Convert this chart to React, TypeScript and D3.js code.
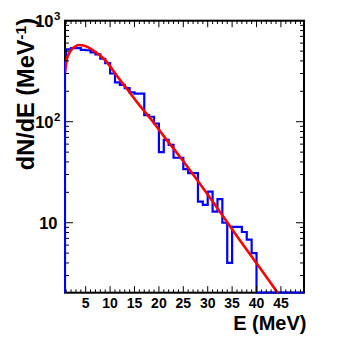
import React from "react";
import * as d3 from "d3";

// Histogram: 1 MeV bins, lower edges 0..39
const binLow: number[] = [
  0, 1, 2, 3, 4, 5, 6, 7, 8, 9, 10, 11, 12, 13, 14, 15, 16, 17, 18, 19,
  20, 21, 22, 23, 24, 25, 26, 27, 28, 29, 30, 31, 32, 33, 34, 35, 36, 37, 38, 39,
];
const counts: number[] = [
  390, 520, 535, 535, 515, 510, 485, 465, 420, 380, 300, 245, 232, 215, 195, 190, 190, 116, 112, 96,
  50, 66, 59, 44, 44, 34, 31, 31, 16.2, 15.0, 20.3, 12.9, 17.1, 10, 4.0, 9.1, 9.1, 8.1, 6.8, 5.0,
];
// Fitted curve samples
const fitE: number[] = [0.76, 1.1, 1.8, 2.8, 3.5, 4.9, 6.9, 9, 11.7, 13.4, 16, 18.5, 21, 24.3, 30.5, 37, 44.1, 47];
const fitV: number[] = [301, 408, 494, 553, 575, 563, 494, 406, 272, 213, 146, 104, 72, 45, 17.6, 6.3, 2.1, 1.3];

const xTickLabels: number[] = [5, 10, 15, 20, 25, 30, 35, 40, 45];
const yMajor: number[] = [10, 100, 1000];

const W = 357, H = 345;
const L = 65, R = 304, T = 20.7, B = 292.7;

export default function App() {
  const x = d3.scaleLinear().domain([0.76, 49.73]).range([L, R]);
  const y = d3.scaleLog().domain([2.03, 1000]).range([B, T]);

  const yv = (v: number) => (v <= 2.03 ? B : y(v));

  // histogram path
  let d = `M${L},${B}`;
  binLow.forEach((lo, i) => {
    const yy = yv(counts[i]);
    const x1 = x(lo + 1);
    d += ` V${yy} H${x1}`;
  });
  d += ` V${B} H${R}`;

  const line = d3
    .line<number>()
    .x((_, i) => x(fitE[i]))
    .y((v) => y(v))
    .curve(d3.curveMonotoneX);
  const fitPath = line(fitV) || "";

  const xMinor = d3.range(1, 50);
  const yMinor: number[] = [];
  [1, 10, 100].forEach((dec) => {
    for (let k = 2; k <= 9; k++) {
      const v = k * dec;
      if (v >= 2.03 && v <= 1000 && !yMajor.includes(v)) yMinor.push(v);
    }
  });

  const font = "'Liberation Sans', Arial, Helvetica, sans-serif";

  return (
    <svg
      width={W}
      height={H}
      style={{ position: "absolute", left: 0, top: 0, background: "#fff" }}
      fontFamily={font}
    >
      <defs>
        <clipPath id="frameClip">
          <rect x={L - 1} y={T - 1} width={R - L + 2} height={B - T + 2} />
        </clipPath>
        <clipPath id="fitClip">
          <rect x={L} y={T} width={R - L} height={B - T} />
        </clipPath>
      </defs>
      <rect x={0} y={0} width={W} height={H} fill="#fff" />
      <rect x={L} y={T} width={R - L} height={B - T} fill="none" stroke="#000" strokeWidth={2} />

      <g clipPath="url(#frameClip)">
        <path d={d} fill="none" stroke="#0000ff" strokeWidth={2.2} strokeLinejoin="miter" />
      </g>
      <g clipPath="url(#fitClip)">
        <path d={fitPath} fill="none" stroke="#ff0000" strokeWidth={2.6} />
      </g>

      {/* x ticks */}
      {xMinor.map((v) => {
        const major = v % 5 === 0;
        const len = major ? 6.5 : 3.3;
        return (
          <g key={"xt" + v} stroke="#000" strokeWidth={1}>
            <line x1={x(v)} x2={x(v)} y1={B} y2={B - len} />
            <line x1={x(v)} x2={x(v)} y1={T} y2={T + len} />
          </g>
        );
      })}
      {/* y ticks */}
      {yMinor.map((v) => (
        <g key={"ym" + v} stroke="#000" strokeWidth={1}>
          <line x1={L} x2={L + 4} y1={y(v)} y2={y(v)} />
          <line x1={R} x2={R - 4} y1={y(v)} y2={y(v)} />
        </g>
      ))}
      {yMajor.map((v) => (
        <g key={"yM" + v} stroke="#000" strokeWidth={1}>
          <line x1={L} x2={L + 8} y1={y(v)} y2={y(v)} />
          <line x1={R} x2={R - 8} y1={y(v)} y2={y(v)} />
        </g>
      ))}

      {/* x tick labels */}
      {xTickLabels.map((v) => (
        <text key={"xl" + v} x={x(v)} y={307.5} textAnchor="middle" fontSize={14} fontWeight="bold" fill="#000">
          {v}
        </text>
      ))}

      {/* y tick labels */}
      <text x={57.5} y={y(10) + 6} textAnchor="end" fontSize={16.5} fontWeight="bold" fill="#000">10</text>
      <text x={53.5} y={y(100) + 6} textAnchor="end" fontSize={16.5} fontWeight="bold" fill="#000">10</text>
      <text x={54} y={y(100) - 0.5} textAnchor="start" fontSize={11.5} fontWeight="bold" fill="#000">2</text>
      <text x={53.5} y={y(1000) + 6} textAnchor="end" fontSize={16.5} fontWeight="bold" fill="#000">10</text>
      <text x={54} y={y(1000) - 0.5} textAnchor="start" fontSize={11.5} fontWeight="bold" fill="#000">3</text>

      {/* axis titles */}
      <text x={306.5} y={330} textAnchor="end" fontSize={20} fontWeight="bold" fill="#000">E (MeV)</text>
      <text
        transform={`translate(34, 18) rotate(-90)`}
        textAnchor="end"
        fontSize={23.5}
        fontWeight="bold"
        fill="#000"
      >
        dN/dE (MeV
        <tspan dy={-8} fontSize={15.5}>-1</tspan>
        <tspan dy={8}>)</tspan>
      </text>
    </svg>
  );
}
